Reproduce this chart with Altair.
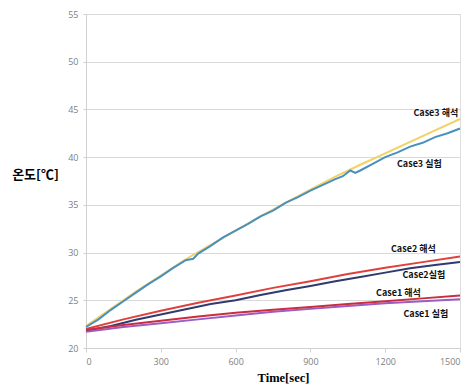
import altair as alt
import pandas as pd

# Case3 해석 (analysis)
t_c3a = [0, 100, 200, 300, 400, 500, 600, 700, 800, 900, 1000, 1100, 1200, 1300, 1400, 1500]
v_c3a = [22.3, 24.1, 25.9, 27.6, 29.3, 30.8, 32.3, 33.8, 35.2, 36.6, 37.95, 39.2, 40.4, 41.6, 42.8, 44.0]

# Case3 실험 (experiment)
t_c3e = [0, 50, 100, 150, 200, 250, 300, 350, 400, 430, 450, 500, 550, 600, 650, 700, 750,
         800, 850, 900, 950, 1000, 1030, 1060, 1080, 1100, 1150, 1200, 1250, 1300, 1350, 1400, 1450, 1500]
v_c3e = [22.2, 23.0, 24.0, 24.9, 25.8, 26.7, 27.5, 28.4, 29.2, 29.35, 29.9, 30.7, 31.6, 32.3, 33.0, 33.8, 34.4,
         35.2, 35.8, 36.5, 37.1, 37.7, 38.0, 38.6, 38.35, 38.6, 39.3, 40.0, 40.5, 41.1, 41.5, 42.1, 42.5, 43.0]

# Case2 해석
t_c2a = [0, 150, 300, 450, 600, 750, 900, 1050, 1200, 1350, 1500]
v_c2a = [22.0, 23.0, 23.9, 24.75, 25.5, 26.3, 27.0, 27.75, 28.4, 29.0, 29.6]

# Case2 실험
t_c2e = [0, 100, 200, 300, 400, 500, 600, 700, 800, 900, 1000, 1100, 1200, 1300, 1400, 1500]
v_c2e = [21.8, 22.3, 22.95, 23.5, 24.05, 24.6, 25.0, 25.55, 26.05, 26.5, 27.0, 27.45, 27.9, 28.35, 28.7, 29.0]

# Case1 해석
t_c1a = [0, 150, 300, 450, 600, 750, 900, 1050, 1200, 1350, 1500]
v_c1a = [21.9, 22.4, 22.85, 23.3, 23.7, 24.0, 24.3, 24.6, 24.9, 25.2, 25.5]

# Case1 실험
t_c1e = [0, 150, 300, 450, 600, 750, 900, 1050, 1200, 1350, 1500]
v_c1e = [21.7, 22.2, 22.6, 23.0, 23.4, 23.8, 24.1, 24.4, 24.7, 24.9, 25.1]

series = [
    ("Case3 해석", t_c3a, v_c3a, "#F2D264"),
    ("Case3 실험", t_c3e, v_c3e, "#4A90BE"),
    ("Case2 실험", t_c2e, v_c2e, "#2F3B6E"),
    ("Case2 해석", t_c2a, v_c2a, "#E0403C"),
    ("Case1 실험", t_c1e, v_c1e, "#9B5CC4"),
    ("Case1 해석", t_c1a, v_c1a, "#CC2C40"),
]

# annotation labels
ann_text = ["Case3 해석", "Case3 실험", "Case2 해석", "Case2실험", "Case1 해석", "Case1 실험"]
ann_t = [1403, 1337, 1313, 1355, 1253, 1363]
ann_v = [44.6, 39.3, 30.4, 27.6, 25.8, 23.6]

x_ticks = [0, 300, 600, 900, 1200, 1500]
y_ticks = [20, 25, 30, 35, 40, 45, 50, 55]

xscale = alt.Scale(domain=[0, 1500], nice=False)
yscale = alt.Scale(domain=[20, 55], nice=False)

xaxis = alt.Axis(values=x_ticks, format="d", grid=False, title="Time[sec]", titleFont="Liberation Serif",
                 titleFontSize=12.5, titleFontWeight="bold", titleColor="#000000",
                 titleX=197, titleY=29, titleBaseline="middle",
                 domainColor="#D0D0D0", tickColor="#D0D0D0", tickSize=4,
                 labelColor="#808080", labelFontSize=9, labelPadding=5, labelFont="Open Sans")
yaxis = alt.Axis(values=y_ticks, format="d", grid=True, gridColor="#D9D9D9", title="온도[℃]",
                 titleFont="Noto Sans CJK KR", titleFontSize=13, titleFontWeight="bold",
                 titleColor="#000000", titleAngle=0, titleAlign="center", titleBaseline="middle",
                 titleX=-51, titleY=160,
                 domainColor="#D0D0D0", tickColor="#D0D0D0", tickSize=3,
                 labelColor="#808080", labelFontSize=9, labelPadding=5, labelFont="Open Sans")

layers = []
for name, ts, vs, col in series:
    df = pd.DataFrame({"t": ts, "v": vs, "s": name})
    layers.append(alt.Chart(df).mark_line(strokeWidth=2, color=col).encode(
        x=alt.X("t:Q", scale=xscale, axis=xaxis),
        y=alt.Y("v:Q", scale=yscale, axis=yaxis)))

ann_df = pd.DataFrame({"label": ann_text, "t": ann_t, "v": ann_v})
text = alt.Chart(ann_df).mark_text(font="Noto Sans CJK KR", fontSize=9, fontWeight="bold",
                                   color="#111111", align="center", baseline="middle").encode(
    x=alt.X("t:Q", scale=xscale, axis=xaxis), y=alt.Y("v:Q", scale=yscale, axis=yaxis), text="label:N")

chart = alt.layer(*layers, text).properties(
    width=374, height=334,
    autosize=alt.AutoSizeParams(type="none"),
    padding={"left": 78, "top": 6, "right": 4, "bottom": 36},
).configure_view(stroke=None).configure(background="#FFFFFF")

chart.save("out.html", embed_options={"renderer": "svg", "actions": False})
